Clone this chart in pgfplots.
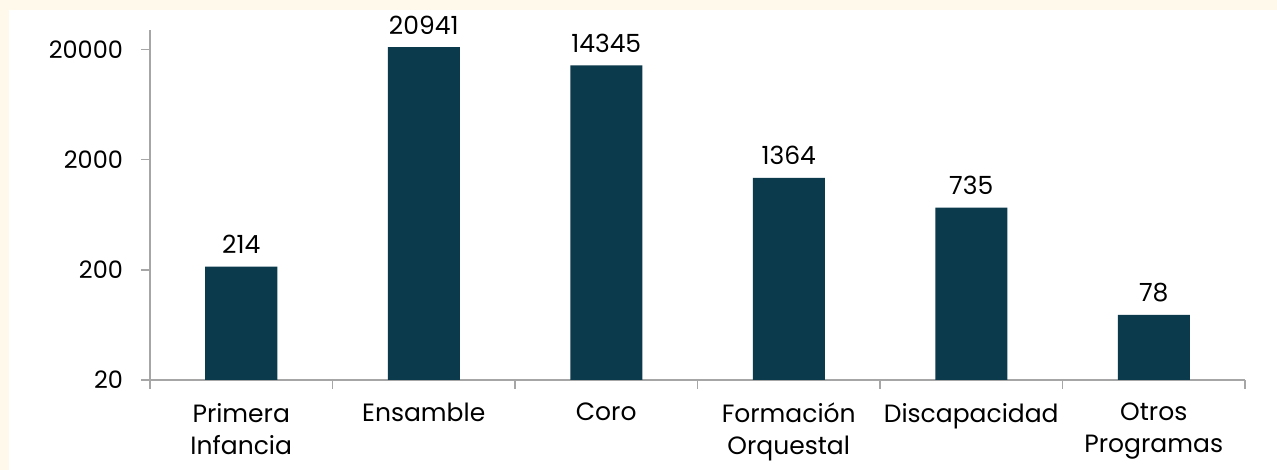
\documentclass[border=0pt]{standalone}
\usepackage{fontspec}
\setmainfont{Poppins}
\usepackage{pgfplots}
\pgfplotsset{compat=1.18}
\definecolor{cream}{RGB}{255,249,236}
\definecolor{barc}{RGB}{11,58,76}
\definecolor{axgray}{RGB}{166,166,166}
\begin{document}
\begin{tikzpicture}
\fill[cream] (-75pt,-45pt) rectangle (563.5pt,190pt);
\fill[white] (-70.5pt,-45pt) rectangle (563.5pt,185pt);
\begin{axis}[
  at={(0,0)}, anchor=south west,
  scale only axis, width=547.5pt, height=175pt,
  ymode=log, ymin=20, ymax=30000, log origin=infty,
  xmin=-0.5, xmax=5.5,
  axis x line*=bottom, axis y line*=left,
  axis line style={axgray, line width=0.8pt, -},
  ybar, bar width=36pt, bar shift=0pt,
  clip=false,
  xtick={0,1,2,3,4,5},
  xticklabels={{Primera\\Infancia},Ensamble,Coro,{Formación\\Orquestal},Discapacidad,{Otros\\Programas}},
  xticklabel style={align=center, font=\fontsize{12.5}{16}\selectfont, yshift=-3.5pt},
  major x tick style={draw=none},
  minor xtick={-0.5,0.5,...,5.5},
  minor x tick style={axgray, line width=0.8pt},
  minor tick length=4.3pt,
  tick align=outside,
  ytick={20,200,2000,20000}, yticklabels={20,200,2000,20000},
  yminorticks=false,
  major tick length=4.5pt,
  y tick style={axgray, line width=0.8pt},
  yticklabel style={font=\fontsize{12}{15}\selectfont, xshift=-5.5pt},
  /pgf/number format/assume math mode=true,
  nodes near coords, point meta=explicit symbolic,
  nodes near coords style={font=\fontsize{12.5}{15}\selectfont, black, anchor=south, yshift=3pt},
]
\addplot[fill=barc, draw=none] coordinates {
  (0,214) [214]
  (1,20941) [20941]
  (2,14345) [14345]
  (3,1364) [1364]
  (4,735) [735]
  (5,78) [78]
};
\end{axis}
\pgfresetboundingbox
\path[use as bounding box] (-75pt,-45pt) rectangle (563.5pt,190pt);
\end{tikzpicture}
\end{document}
